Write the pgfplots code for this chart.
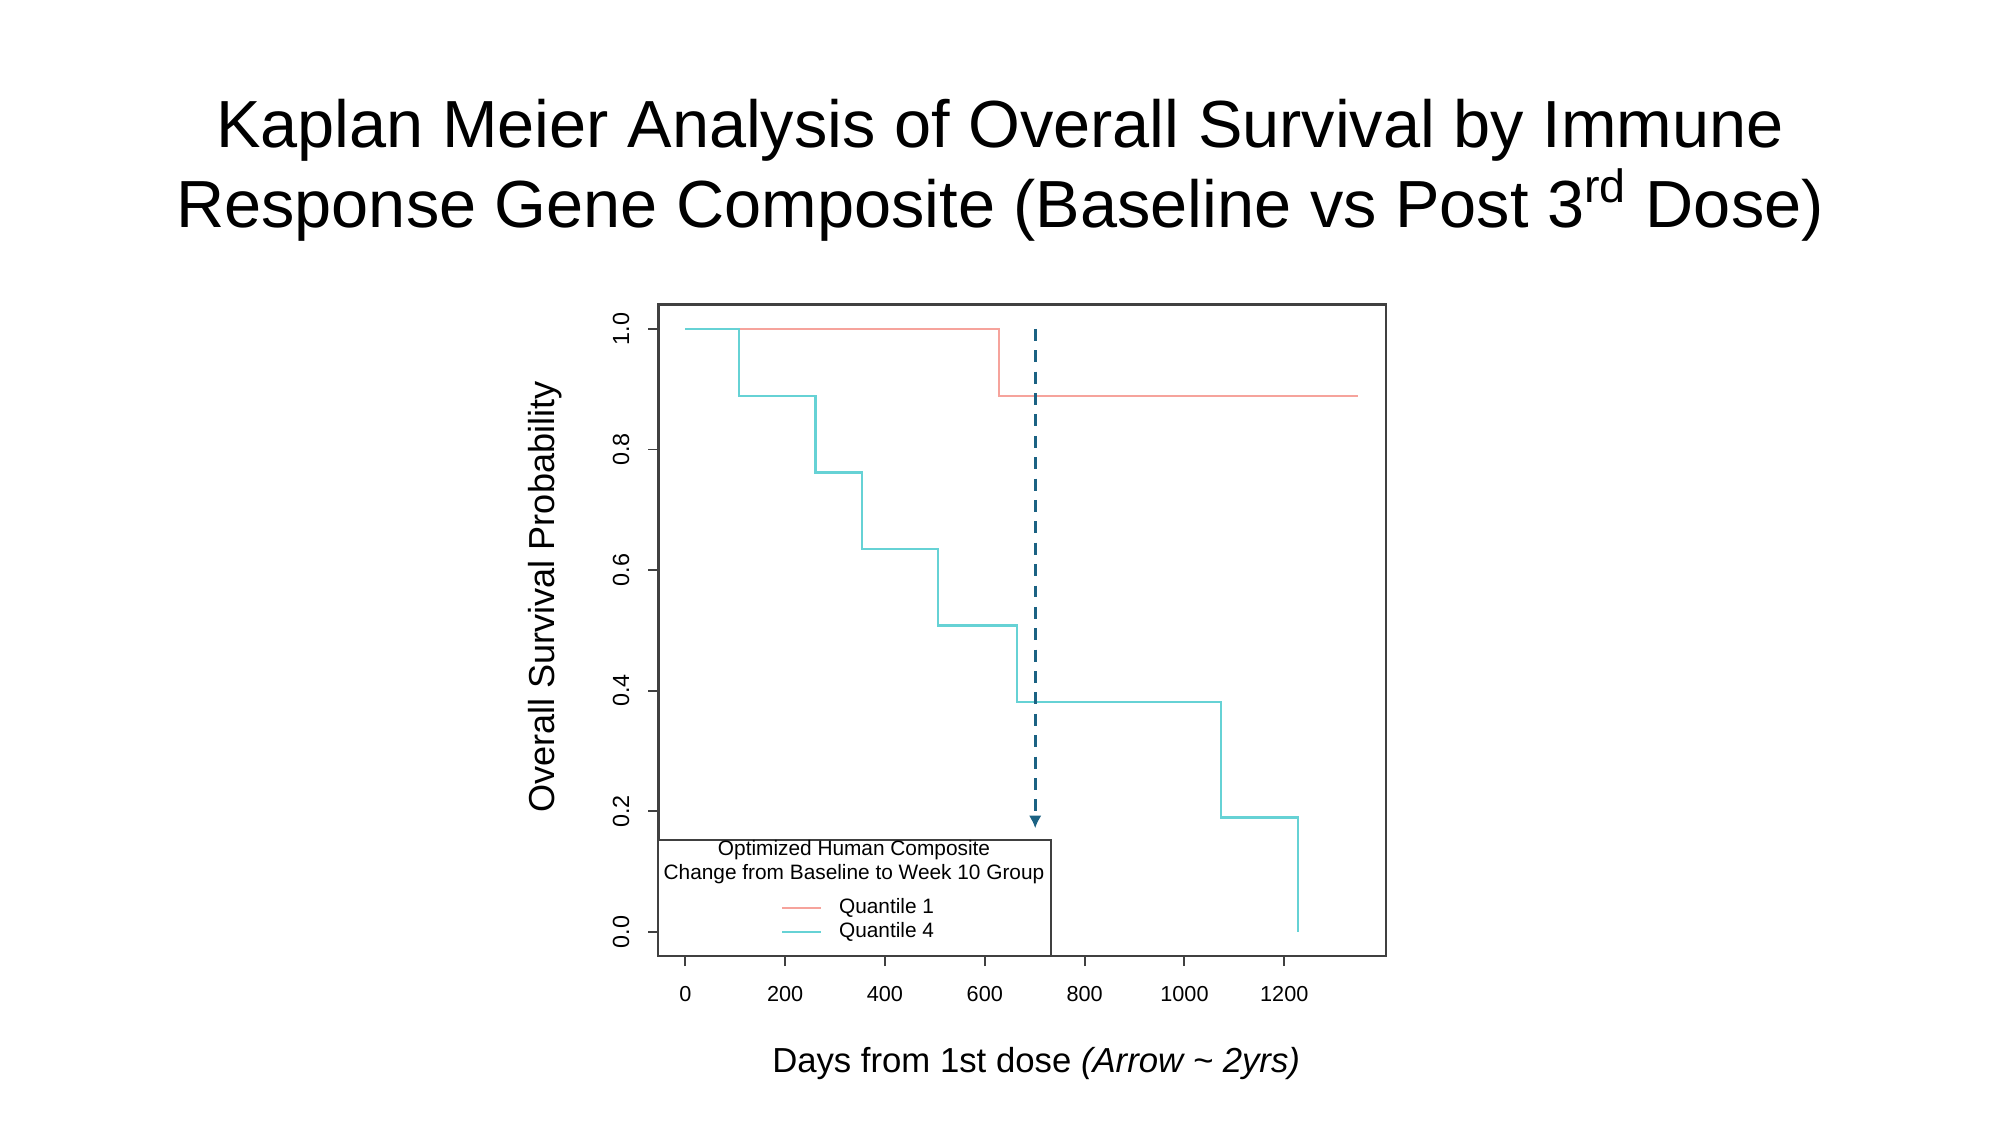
\documentclass[border=0pt]{standalone}
\usepackage{fontspec}
\setmainfont{Liberation Sans}
\usepackage{pgfplots}
\pgfplotsset{compat=1.18}
\usetikzlibrary{arrows.meta}
\definecolor{qone}{HTML}{F6A39C}
\definecolor{qfour}{HTML}{66D2D5}
\definecolor{arr}{HTML}{1B6283}
\begin{document}
\begin{tikzpicture}[x=1pt,y=1pt]
\path[use as bounding box] (0,0) rectangle (720,405);
\node[font=\fontsize{24}{29}\selectfont, anchor=base, inner sep=0pt] at (360,352) {Kaplan Meier Analysis of Overall Survival by Immune};
\node[font=\fontsize{24}{29}\selectfont, anchor=base, inner sep=0pt] at (360,323) {Response Gene Composite (Baseline vs Post 3\textsuperscript{rd} Dose)};
\begin{axis}[
  at={(237pt,60.8pt)}, anchor=south west, scale only axis,
  width=262pt, height=234.5pt,
  xmin=-54, xmax=1404, ymin=-0.04, ymax=1.04,
  xtick={0,200,400,600,800,1000,1200},
  xticklabels={0,200,400,600,800,1000,1200},
  ytick={0,0.2,0.4,0.6,0.8,1.0},
  yticklabels={0.0,0.2,0.4,0.6,0.8,1.0},
  tick pos=left, tick align=outside, major tick length=3.6pt,
  axis line style={line width=0.9pt, black!75},
  every tick/.style={line width=0.7pt, black!75},
  tick label style={font=\fontsize{7.8}{9}\selectfont},
  xticklabel shift=3.6pt,
  yticklabel shift=3.3pt,
  yticklabel style={rotate=90, anchor=south, font=\fontsize{8.4}{9}\selectfont},
  /pgf/number format/assume math mode=true,
  clip=false,
]
\addplot[const plot, qone, line width=0.8pt] coordinates {(0,1) (628,0.889) (1347,0.889)};
\addplot[const plot, qfour, line width=0.8pt] coordinates {(0,1) (108,0.889) (261,0.762) (354,0.635) (507,0.508) (665,0.381) (1073,0.190) (1228,0)};
\addplot[arr, line width=1pt, dash pattern=on 4.3pt off 3.4pt, -{Latex[length=4.5pt,width=4.5pt]}] coordinates {(701,1.0) (701,0.172)};
\draw[black!75, line width=0.8pt, fill=white] (axis cs:-54,-0.04) rectangle (axis cs:732,0.153);
\node[font=\fontsize{7.5}{9}\selectfont, inner sep=0pt] at (axis cs:338,0.136) {Optimized Human Composite};
\node[font=\fontsize{7.5}{9}\selectfont, inner sep=0pt] at (axis cs:338,0.096) {Change from Baseline to Week 10 Group};
\draw[qone, line width=0.8pt] (axis cs:194,0.040) -- (axis cs:271,0.040);
\draw[qfour, line width=0.8pt] (axis cs:194,0.0) -- (axis cs:271,0.0);
\node[font=\fontsize{7.5}{9}\selectfont, inner sep=0pt, anchor=west] at (axis cs:307,0.040) {Quantile 1};
\node[font=\fontsize{7.5}{9}\selectfont, inner sep=0pt, anchor=west] at (axis cs:307,0.0) {Quantile 4};
\end{axis}
\node[font=\fontsize{13}{15}\selectfont, rotate=90, inner sep=0pt] at (196.2,190) {Overall Survival Probability};
\node[font=\fontsize{12.5}{14}\selectfont, inner sep=0pt, anchor=base] at (373,19) {Days from 1st dose \textit{(Arrow \textasciitilde\ 2yrs)}};
\end{tikzpicture}
\end{document}
